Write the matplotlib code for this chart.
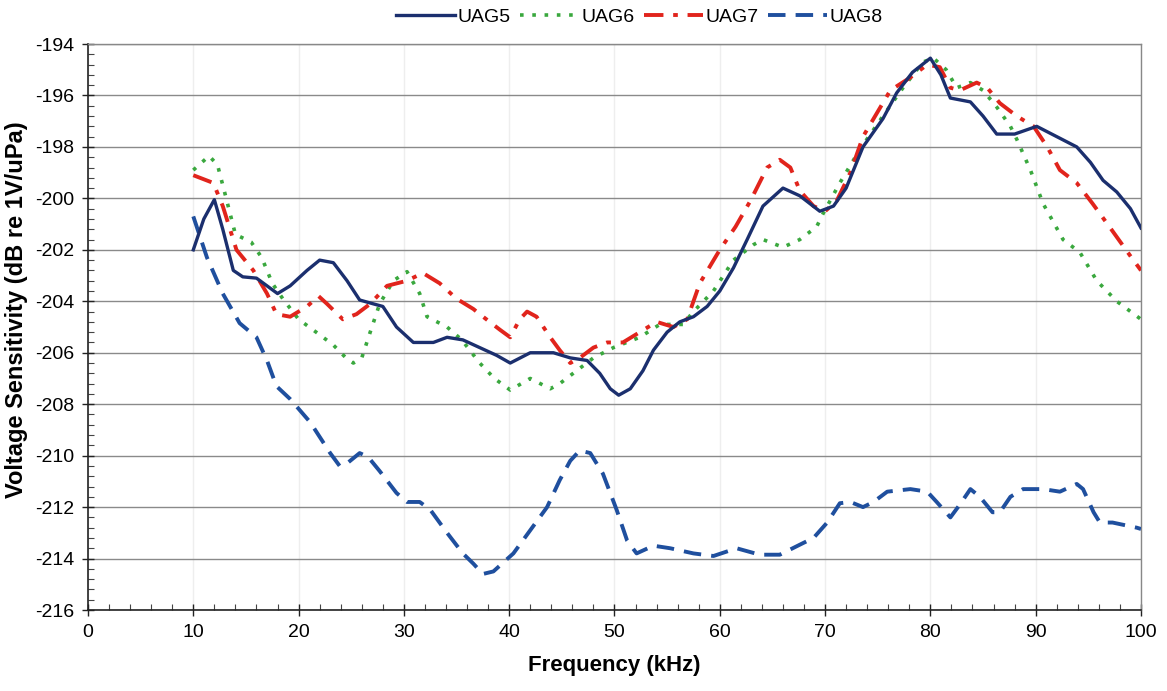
import matplotlib
matplotlib.use("Agg")
import matplotlib.pyplot as plt
from matplotlib.ticker import MultipleLocator

plt.rcParams['font.family'] = ['Liberation Sans', 'DejaVu Sans']
plt.rcParams['axes.unicode_minus'] = False

# data (kHz, dB re 1V/uPa)
uag5_f = [10, 11, 12, 12.8, 13.8, 14.7, 16, 17, 18, 19.2, 20.8, 22, 23.3, 24.6, 25.8, 27.1, 28,
          29.3, 30.9, 32.8, 34.1, 35.6, 37.2, 38.8, 40.1, 42, 44.2, 45.8, 47.4, 48.6, 49.6, 50.4,
          51.5, 52.7, 53.7, 55, 56.2, 57.5, 58.8, 60, 61.3, 62.6, 64.1, 66, 67.6, 69.5, 70.8, 72,
          73.6, 75.5, 76.8, 78.3, 80, 81, 81.9, 83.8, 85, 86.3, 88, 90.1, 92, 93.9, 95.2, 96.4,
          97.7, 99, 100]
uag5_v = [-202.0, -200.8, -200.05, -201.2, -202.8, -203.05, -203.1, -203.4, -203.7, -203.4, -202.8,
          -202.4, -202.5, -203.2, -203.95, -204.1, -204.2, -205.0, -205.6, -205.6, -205.4, -205.5,
          -205.8, -206.1, -206.4, -206.0, -206.0, -206.2, -206.3, -206.8, -207.4, -207.65, -207.4,
          -206.7, -205.9, -205.2, -204.8, -204.6, -204.2, -203.6, -202.7, -201.6, -200.3, -199.6,
          -199.9, -200.5, -200.3, -199.6, -198.0, -196.9, -195.9, -195.1, -194.55, -195.2, -196.1,
          -196.25, -196.8, -197.5, -197.5, -197.2, -197.6, -198.0, -198.6, -199.3, -199.75, -200.4,
          -201.15]

uag6_f = [10, 11.5, 12.3, 13, 14, 15.5, 16.5, 17.5, 18.5, 20, 22, 23.3, 24.5, 25.2, 26, 26.8, 27.7,
          29, 30.3, 31.5, 32.2, 34.1, 35.5, 37.2, 38.6, 40.1, 42, 43.9, 44.8, 46.4, 48, 49.9, 52.4,
          54.3, 56.5, 57.5, 59.4, 61.3, 63.2, 64.1, 66, 67.6, 69.2, 69.8, 71.4, 73.3, 75.5, 77.4,
          79.3, 80.3, 81.5, 82.5, 83.8, 85, 86.3, 87.6, 88.2, 89.5, 90.7, 92.6, 94.2, 95.8, 97.7, 100]
uag6_v = [-198.9, -198.35, -198.7, -199.8, -201.4, -201.7, -202.3, -203.3, -203.9, -204.7, -205.3,
          -205.7, -206.2, -206.4, -206.2, -205.2, -204.1, -203.2, -202.85, -203.7, -204.6, -205.0,
          -205.5, -206.4, -207.0, -207.45, -207.0, -207.4, -207.2, -206.7, -206.2, -205.8, -205.4,
          -204.9, -204.9, -204.4, -203.6, -202.4, -201.8, -201.6, -201.9, -201.6, -201.1, -200.6,
          -199.4, -198.1, -196.8, -195.7, -194.7, -194.55, -195.0, -195.7, -195.5, -195.8, -196.45,
          -197.2, -197.7, -198.9, -200.2, -201.6, -202.1, -203.2, -204.0, -204.7]

uag7_f = [10, 11.9, 12.8, 14.1, 15.7, 17, 17.9, 19.2, 20.8, 21.9, 22.7, 24.2, 25.5, 26.8, 28.4, 30.3,
          31.8, 33.4, 35, 36.6, 37.2, 39.1, 40.1, 41, 41.7, 42.6, 43.9, 44.8, 45.8, 46.7, 48, 49.3,
          50.8, 52.4, 54, 55.6, 56.9, 58.1, 60, 61.5, 62.9, 64.5, 65.7, 66.7, 67.6, 68.9, 70, 71.1,
          72.4, 73.6, 74.9, 76.2, 78.1, 79.7, 80.9, 81.9, 82.8, 84.4, 85.4, 86.6, 88.2, 89.8, 91.1,
          92.3, 93.9, 95.4, 97, 99.1, 100]
uag7_v = [-199.1, -199.4, -200.3, -202.0, -202.8, -203.7, -204.5, -204.6, -204.2, -203.8, -204.1,
          -204.7, -204.5, -204.1, -203.4, -203.2, -202.9, -203.3, -203.9, -204.3, -204.5, -205.1,
          -205.4, -204.7, -204.4, -204.6, -205.4, -205.9, -206.4, -206.2, -205.8, -205.6, -205.6,
          -205.2, -204.8, -205.0, -204.7, -203.3, -202.0, -201.1, -200.1, -198.8, -198.5, -198.8,
          -199.7, -200.3, -200.5, -200.1, -199.0, -197.6, -196.7, -195.8, -195.3, -194.8, -194.9,
          -195.7, -195.8, -195.5, -195.7, -196.3, -196.8, -197.2, -198.0, -198.9, -199.4, -200.2,
          -201.1, -202.3, -202.8]

uag8_f = [10, 11.3, 12.8, 14.4, 16, 17, 17.9, 19.2, 21.1, 23, 23.9, 24.6, 25.8, 26.6, 27.7, 29.3,
          30.3, 31.5, 32.5, 34.1, 35.6, 36.6, 37.5, 38.5, 40.4, 42, 43.6, 44.8, 45.8, 46.7, 47.7,
          48.9, 50.2, 51.2, 52.1, 53.7, 55.3, 57.5, 59.4, 61.6, 63.8, 65.7, 67.9, 68.9, 70.2, 71.4,
          72.4, 73.6, 74.6, 75.9, 78.1, 79.7, 80.6, 81.9, 82.8, 83.8, 84.7, 85.9, 86.6, 87.6, 88.8,
          90.7, 92.3, 93.9, 94.5, 95.5, 96.1, 97.3, 99.6, 100]
uag8_v = [-200.7, -202.3, -203.7, -204.85, -205.4, -206.3, -207.3, -207.8, -208.7, -209.9, -210.4,
          -210.3, -209.9, -210.05, -210.6, -211.45, -211.8, -211.8, -212.1, -213.0, -213.8, -214.2,
          -214.6, -214.5, -213.8, -212.9, -212.0, -210.95, -210.2, -209.8, -209.9, -210.7, -212.1,
          -213.3, -213.8, -213.5, -213.6, -213.8, -213.9, -213.6, -213.85, -213.85, -213.4, -213.2,
          -212.6, -211.85, -211.8, -212.0, -211.8, -211.4, -211.3, -211.4, -211.8, -212.4, -211.9,
          -211.3, -211.6, -212.2, -212.2, -211.6, -211.3, -211.3, -211.4, -211.1, -211.3, -212.2,
          -212.6, -212.6, -212.8, -212.85]

fig = plt.figure(figsize=(11.67, 6.91), dpi=100)
ax = fig.add_axes([0.0754, 0.1172, 0.9023, 0.8191])

ax.plot(uag5_f, uag5_v, color='#1b2f6e', lw=2.4, label='UAG5', zorder=4)
ax.plot(uag6_f, uag6_v, color='#3aa83e', lw=2.6, linestyle=(0, (1.0, 2.4)), label='UAG6', zorder=3)
ax.plot(uag7_f, uag7_v, color='#e1241c', lw=2.8, linestyle=(0, (5, 2.5, 1.2, 2.5)), label='UAG7', zorder=3)
ax.plot(uag8_f, uag8_v, color='#1f4f9e', lw=2.8, linestyle=(0, (4.5, 2.6)), label='UAG8', zorder=3)

ax.set_xlim(0, 100)
ax.set_ylim(-216, -194)
ax.xaxis.set_major_locator(MultipleLocator(10))
ax.xaxis.set_minor_locator(MultipleLocator(2))
ax.yaxis.set_major_locator(MultipleLocator(2))
ax.yaxis.set_minor_locator(MultipleLocator(0.4))

ax.grid(axis='y', which='major', color='#8a8a8a', lw=1.0)
ax.grid(axis='x', which='major', color='#eeeeee', lw=1.0)
ax.set_axisbelow(True)

ax.tick_params(axis='both', which='major', direction='inout', length=8, width=1,
               labelsize=14, color='#222222', pad=6)
ax.tick_params(axis='both', which='minor', direction='in', length=4, width=0.8, color='#444444')

for s in ['left', 'bottom']:
    ax.spines[s].set_color('#222222')
    ax.spines[s].set_linewidth(1.2)
for s in ['top', 'right']:
    ax.spines[s].set_color('#888888')
    ax.spines[s].set_linewidth(1.0)

ax.set_xlabel('Frequency (kHz)', fontsize=16, fontweight='bold', labelpad=10)
ax.set_ylabel('Voltage Sensitivity (dB re 1V/uPa)', fontsize=17, fontweight='bold')
ax.yaxis.set_label_coords(-0.057, 0.53)

fig.legend(loc='center', bbox_to_anchor=(0.548, 0.975), ncol=4, frameon=False,
           fontsize=14, handlelength=3.0, handletextpad=0.15, columnspacing=0.5)

fig.savefig('out.png', dpi=100)
